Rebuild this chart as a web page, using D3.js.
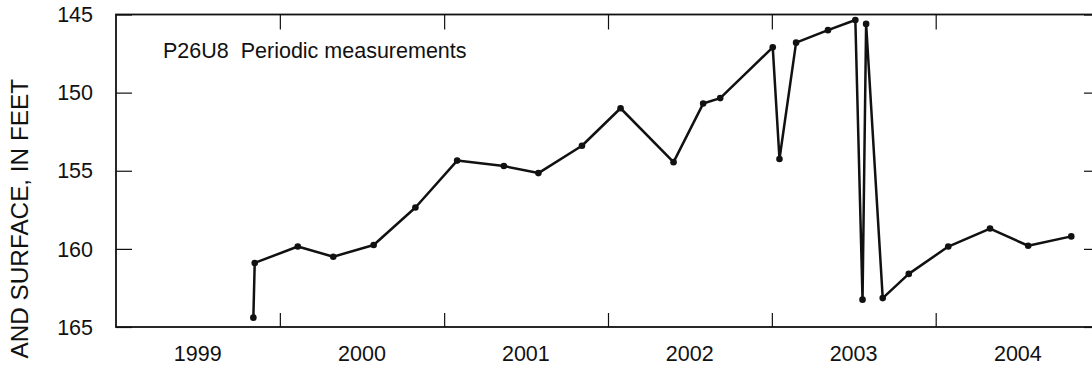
<!DOCTYPE html>
<html><head><meta charset="utf-8">
<script src="https://cdn.jsdelivr.net/npm/d3@7"></script>
<style>
html,body{margin:0;padding:0;background:#fff;}
svg{display:block;font-family:"Liberation Sans",Arial,Helvetica,sans-serif;}
</style></head>
<body>
<svg id="chart" width="1092" height="366"></svg>
<script>
const dates = ["1999-11-03","1999-11-06","2000-02-10","2000-04-29","2000-07-28","2000-10-29",
  "2001-01-30","2001-05-14","2001-07-30","2001-11-04","2002-01-29","2002-05-27","2002-08-01",
  "2002-09-08","2003-01-03","2003-01-18","2003-02-24","2003-05-06","2003-07-06","2003-07-22",
  "2003-07-30","2003-09-05","2003-11-02","2004-01-29","2004-05-01","2004-07-25","2004-10-29"];
const depths = [164.4,160.9,159.85,160.5,159.75,157.35,154.35,154.7,155.15,153.4,151.0,154.45,150.7,
  150.35,147.1,154.25,146.8,146.0,145.35,163.25,145.6,163.15,161.6,159.85,158.7,159.8,159.2];
const yearLabels = ["1999","2000","2001","2002","2003","2004"];
const yTicks = [145,150,155,160,165];
const annotation = "P26U8  Periodic measurements";
const yTitle = "AND SURFACE, IN FEET";

const parse = d3.timeParse("%Y-%m-%d");
const data = dates.map((d,i)=>({date:parse(d), v:depths[i]}));

const svg = d3.select("#chart");
const L = 116, R = 1100, T = 14.5, B = 327;
const x = d3.scaleTime().domain([new Date(1999,0,1), new Date(2005,0,1)]).range([L,R]);
const y = d3.scaleLinear().domain([145,165]).range([T,B]);

const frame = svg.append("g").attr("stroke","#111").attr("fill","none");
frame.append("rect").attr("x",L).attr("y",T).attr("width",R-L).attr("height",B-T).attr("stroke-width",1.8);

// y ticks left & right (inward)
const yAxisL = d3.axisRight(y).tickValues(yTicks).tickSize(16).tickFormat("");
svg.append("g").attr("transform",`translate(${L},0)`).call(yAxisL)
  .call(g=>{g.select(".domain").remove(); g.selectAll("line").attr("stroke","#111").attr("stroke-width",1.2);});
const yAxisR = d3.axisLeft(y).tickValues(yTicks).tickSize(16).tickFormat("");
svg.append("g").attr("transform",`translate(${R},0)`).call(yAxisR)
  .call(g=>{g.select(".domain").remove(); g.selectAll("line").attr("stroke","#111").attr("stroke-width",1.2);});

// y labels
svg.append("g").selectAll("text").data(yTicks).join("text")
  .attr("x",93).attr("y",d=>y(d)).attr("dy","0.36em").attr("text-anchor","end")
  .attr("font-size",21.5).attr("fill","#111").text(d=>d);

// x ticks at year boundaries
const yearStarts = d3.range(2000,2005).map(yy=>new Date(yy,0,1));
const xAxisB = d3.axisTop(x).tickValues(yearStarts).tickSize(14).tickFormat("");
svg.append("g").attr("transform",`translate(0,${B})`).call(xAxisB)
  .call(g=>{g.select(".domain").remove(); g.selectAll("line").attr("stroke","#111").attr("stroke-width",1.2);});
const xAxisT = d3.axisBottom(x).tickValues(yearStarts).tickSize(15).tickFormat("");
svg.append("g").attr("transform",`translate(0,${T})`).call(xAxisT)
  .call(g=>{g.select(".domain").remove(); g.selectAll("line").attr("stroke","#111").attr("stroke-width",1.2);});

// year labels centered mid-year
svg.append("g").selectAll("text").data(yearLabels).join("text")
  .attr("x",d=>x(new Date(+d,6,2))).attr("y",361).attr("text-anchor","middle")
  .attr("font-size",21.5).attr("fill","#111").text(d=>d);

// y title (visible part, as in the reference)
svg.append("text").attr("transform","translate(28,79) rotate(-90)")
  .attr("text-anchor","end").attr("font-size",24.3).attr("fill","#111").text(yTitle);

// annotation
svg.append("text").attr("x",163).attr("y",58).attr("font-size",21.5).attr("fill","#111")
  .attr("xml:space","preserve").style("white-space","pre").text(annotation);

// line
const line = d3.line().x(d=>x(d.date)).y(d=>y(d.v));
svg.append("path").datum(data).attr("d",line).attr("fill","none")
  .attr("stroke","#111").attr("stroke-width",2.5).attr("stroke-linejoin","round");
svg.append("g").selectAll("circle").data(data).join("circle")
  .attr("cx",d=>x(d.date)).attr("cy",d=>y(d.v)).attr("r",3.3).attr("fill","#111");
</script>
</body></html>
